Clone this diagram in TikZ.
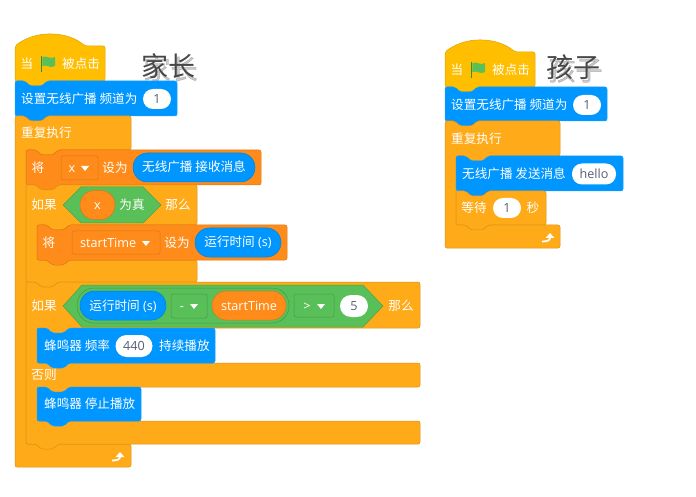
\documentclass[tikz,border=0pt]{standalone}
\usepackage{fontspec}
\setmainfont{Open Sans}
\newfontfamily\cjk{Noto Sans CJK SC}
\newfontfamily\cjkshade[FakeBold=2]{Noto Sans CJK SC}
\usetikzlibrary{arrows.meta}
\definecolor{hatyellow}{HTML}{FFBF00}
\definecolor{ctrlorange}{HTML}{FFAB19}
\definecolor{varorange}{HTML}{FF8C1A}
\definecolor{extblue}{HTML}{0096FF}
\definecolor{opgreen}{HTML}{59C059}
\definecolor{pilltext}{HTML}{575E75}
\newcommand{\hatblock}[2]{
  \draw[hatbody] (#1,{#2+35}) -- (#1,#2) .. controls ({#1+10},{#2-8}) and ({#1+23},{#2-12}) .. ({#1+35},{#2-12})
    .. controls ({#1+48},{#2-12}) and ({#1+61},{#2-8}) .. ({#1+70},#2) -- ({#1+90},#2) -- ({#1+90},{#2+35})
    -- ({#1+32},{#2+35}) -- ({#1+27},{#2+40}) -- ({#1+15},{#2+40}) -- ({#1+10},{#2+35}) -- cycle;
}
\newcommand{\stackblock}[5]{
  \draw[#1] (#2,#3) -- ({#2+10},#3) -- ({#2+15},{#3+5}) -- ({#2+27},{#3+5}) -- ({#2+32},#3) -- (#4,#3) -- (#4,#5)
    -- ({#2+32},#5) -- ({#2+27},{#5+5}) -- ({#2+15},{#5+5}) -- ({#2+10},#5) -- (#2,#5) -- cycle;
}
\newcommand{\cblock}[7]{
  \draw[ctrlbody] (#1,#2) -- ({#1+10},#2) -- ({#1+15},{#2+5}) -- ({#1+27},{#2+5}) -- ({#1+32},#2) -- (#3,#2) -- (#3,#4)
    -- ({#1+43},#4) -- ({#1+38},{#4+5}) -- ({#1+26},{#4+5}) -- ({#1+21},#4) -- ({#1+11},#4) -- ({#1+11},#5)
    -- (#3,#5) -- (#3,#6) -- ({#1+32},#6) -- ({#1+27},{#6+#7}) -- ({#1+15},{#6+#7}) -- ({#1+10},#6) -- (#1,#6) -- cycle;
}
\newcommand{\dropmark}[2]{
  \fill[white] ({#1-4},{#2-2}) -- ({#1+4},{#2-2}) -- (#1,{#2+3}) -- cycle;
}
\newcommand{\greenflag}[2]{
  \fill[green!45!black!80] (#1,#2) rectangle ({#1+1.4},{#2+16});
  \fill[flaggreen] ({#1+1.4},{#2+1}) .. controls ({#1+6},{#2-1}) and ({#1+9},{#2+4}) .. ({#1+14},{#2+1})
    -- ({#1+14},{#2+10}) .. controls ({#1+9},{#2+13}) and ({#1+6},{#2+8}) .. ({#1+1.4},{#2+10}) -- cycle;
}
\newcommand{\loopmark}[2]{
  \draw[white, line width=1.8, -{Triangle[length=5pt,width=8.5pt]}] ({#1-8},{#2+4.5}) .. controls ({#1-3},{#2+4.5}) and (#1,{#2+3.5}) .. (#1,{#2-4});
}
\begin{document}
\begin{tikzpicture}[x=1pt, y=-1pt,
  hatbody/.style={fill=hatyellow, draw=hatyellow!85!black, line width=0.5, rounded corners=2},
  ctrlbody/.style={fill=ctrlorange, draw=ctrlorange!85!black, line width=0.5, rounded corners=2},
  varbody/.style={fill=varorange, draw=varorange!85!black, line width=0.5, rounded corners=2},
  bluebody/.style={fill=extblue, draw=extblue!90!white, line width=0.5, rounded corners=2},
  greenbody/.style={fill=opgreen, draw=opgreen!85!black, line width=0.5},
  lbl/.style={text=white, inner sep=0, text height=10.5, text depth=1.5, font=\cjk\fontsize{12.6}{12.6}\selectfont},
  lat/.style={text=white, inner sep=0, text height=9, text depth=0, font=\fontsize{12.6}{12.6}\selectfont},
  bluepill/.style={lat, fill=extblue, draw=extblue!85!black, line width=0.5, rounded corners=14.4, minimum height=29},
  orangepill/.style={lat, fill=varorange, draw=varorange!85!black, line width=0.5, rounded corners=14.4, minimum height=29},
  whitepill/.style={inner sep=0, fill=white, text=pilltext, rounded corners=10, minimum height=20, text height=9, text depth=0, font=\fontsize{12.6}{12.6}\selectfont},
  varbox/.style={draw=varorange!85!black, line width=0.5, rounded corners=2},
  opbox/.style={draw=opgreen!80!black, line width=0.5, rounded corners=2},
  flaggreen/.style={fill=opgreen},
  heading/.style={text=black!72, inner sep=0, font=\cjk\fontsize{27}{27}\selectfont},
  headshade/.style={inner sep=0, text=black, opacity=0.2, font=\cjkshade\fontsize{27}{27}\selectfont}]
\useasboundingbox (0,0) rectangle (696,497);

\node[headshade] (parentshade) at (170.5,69) {家长};
\node[headshade] (childshade) at (575.5,70) {孩子};
\node[heading] (parenttitle) at (168,66) {家长};
\node[heading] (childtitle) at (573,67) {孩子};

\hatblock{15}{46}
\greenflag{41}{56}
\node[lbl] (whenleft) at (27,64) {当};
\node[lbl, anchor=west] (clickleft) at (62,64) {被点击};
\stackblock{bluebody}{15}{81}{177}{116}
\node[lbl, anchor=west] (radioleft) at (21,99) {设置无线广播 频道为};
\node[whitepill, minimum width=28] (chanleft) at (157,99) {1};

\cblock{15}{116}{131}{150}{444}{467}{0}
\node[lbl, anchor=west] (foreverleft) at (21,133) {重复执行};
\loopmark{120}{456}

\stackblock{varbody}{26}{150}{261}{185}
\node[lbl] (setx) at (38,168) {将};
\draw[varbox] (61,156) rectangle (98,180);
\node[lat] (xname) at (72,168) {x};
\dropmark{85}{168}
\node[lbl] (setxto) at (115,168) {设为};
\node[bluepill, minimum width=122, font=\cjk\fontsize{12.6}{12.6}\selectfont] (recvpill) at (194,167.5) {无线广播 接收消息};

\cblock{26}{185}{197}{225}{260}{282}{5}
\node[lbl] (ifone) at (44,205) {如果};
\path[greenbody] (63,205) -- (81,187) -- (143,187) -- (161,205) -- (143,223) -- (81,223) -- cycle;
\node[orangepill, minimum width=35] (xpill) at (97.5,205) {x};
\node[lbl] (istrue) at (132,205) {为真};
\node[lbl] (thenone) at (178,205) {那么};

\stackblock{varbody}{37}{225}{287}{260}
\node[lbl] (settime) at (49,243) {将};
\draw[varbox] (72,231) rectangle (160,254);
\node[lat, anchor=west] (timename) at (80,243) {startTime};
\dropmark{146}{243}
\node[lbl] (settimeto) at (177,243) {设为};
\node[bluepill, minimum width=86] (timepill) at (238,242.5) {{\cjk 运行时间} (s)};

\draw[ctrlbody] (26,282) -- (36,282) -- (41,287) -- (53,287) -- (58,282) -- (420,282) -- (420,328) -- (69,328) -- (64,333)
  -- (52,333) -- (47,328) -- (37,328) -- (37,363) -- (420,363) -- (420,387) -- (69,387) -- (64,392) -- (52,392) -- (47,387)
  -- (37,387) -- (37,421) -- (420,421) -- (420,444) -- (58,444) -- (53,449) -- (41,449) -- (36,444) -- (26,444) -- cycle;
\node[lbl] (iftwo) at (44,306) {如果};
\path[greenbody] (63,306) -- (82,285) -- (363,285) -- (383,306) -- (363,327) -- (82,327) -- cycle;
\draw[opbox, rounded corners=17] (77,288) rectangle (289,323);
\node[bluepill, minimum width=86] (timepilltwo) at (123,305.5) {{\cjk 运行时间} (s)};
\draw[opbox] (171,294) rectangle (207,318);
\node[lat] (minus) at (182,306) {-};
\dropmark{194}{306}
\node[orangepill, minimum width=74] (timeread) at (249,305.5) {startTime};
\draw[opbox] (294,294) rectangle (334,317);
\node[lat] (greater) at (307,306) {>};
\dropmark{321}{306}
\node[whitepill, minimum width=28, minimum height=22, rounded corners=11] (five) at (354,306) {5};
\node[lbl] (thentwo) at (401,306) {那么};

\stackblock{bluebody}{37}{328}{215}{363}
\node[lbl, anchor=west] (beepon) at (44,346) {蜂鸣器 频率};
\node[whitepill, minimum width=37, minimum height=22, rounded corners=11] (freq) at (134,346) {440};
\node[lbl, anchor=west] (beepkeep) at (159,346) {持续播放};
\node[lbl] (elselabel) at (44,375) {否则};
\stackblock{bluebody}{37}{387}{141}{421}
\node[lbl, anchor=west] (beepoff) at (44,404) {蜂鸣器 停止播放};

\hatblock{445}{52}
\greenflag{471}{62}
\node[lbl] (whenright) at (457,70) {当};
\node[lbl, anchor=west] (clickright) at (492,70) {被点击};
\stackblock{bluebody}{445}{87}{607}{121}
\node[lbl, anchor=west] (radioright) at (451,105) {设置无线广播 频道为};
\node[whitepill, minimum width=28] (chanright) at (587,105) {1};

\cblock{445}{121}{560}{156}{225}{248}{0}
\node[lbl, anchor=west] (foreverright) at (451,139) {重复执行};
\loopmark{550}{237}

\stackblock{bluebody}{456}{156}{623}{191}
\node[lbl, anchor=west] (sendlabel) at (462,174) {无线广播 发送消息};
\node[whitepill, minimum width=44, minimum height=21] (hello) at (594,174) {hello};
\stackblock{ctrlbody}{456}{191}{546}{225}
\node[lbl] (waitlabel) at (474,208) {等待};
\node[whitepill, minimum width=28] (waittime) at (507,208) {1};
\node[lbl] (seclabel) at (533,208) {秒};
\end{tikzpicture}
\end{document}
